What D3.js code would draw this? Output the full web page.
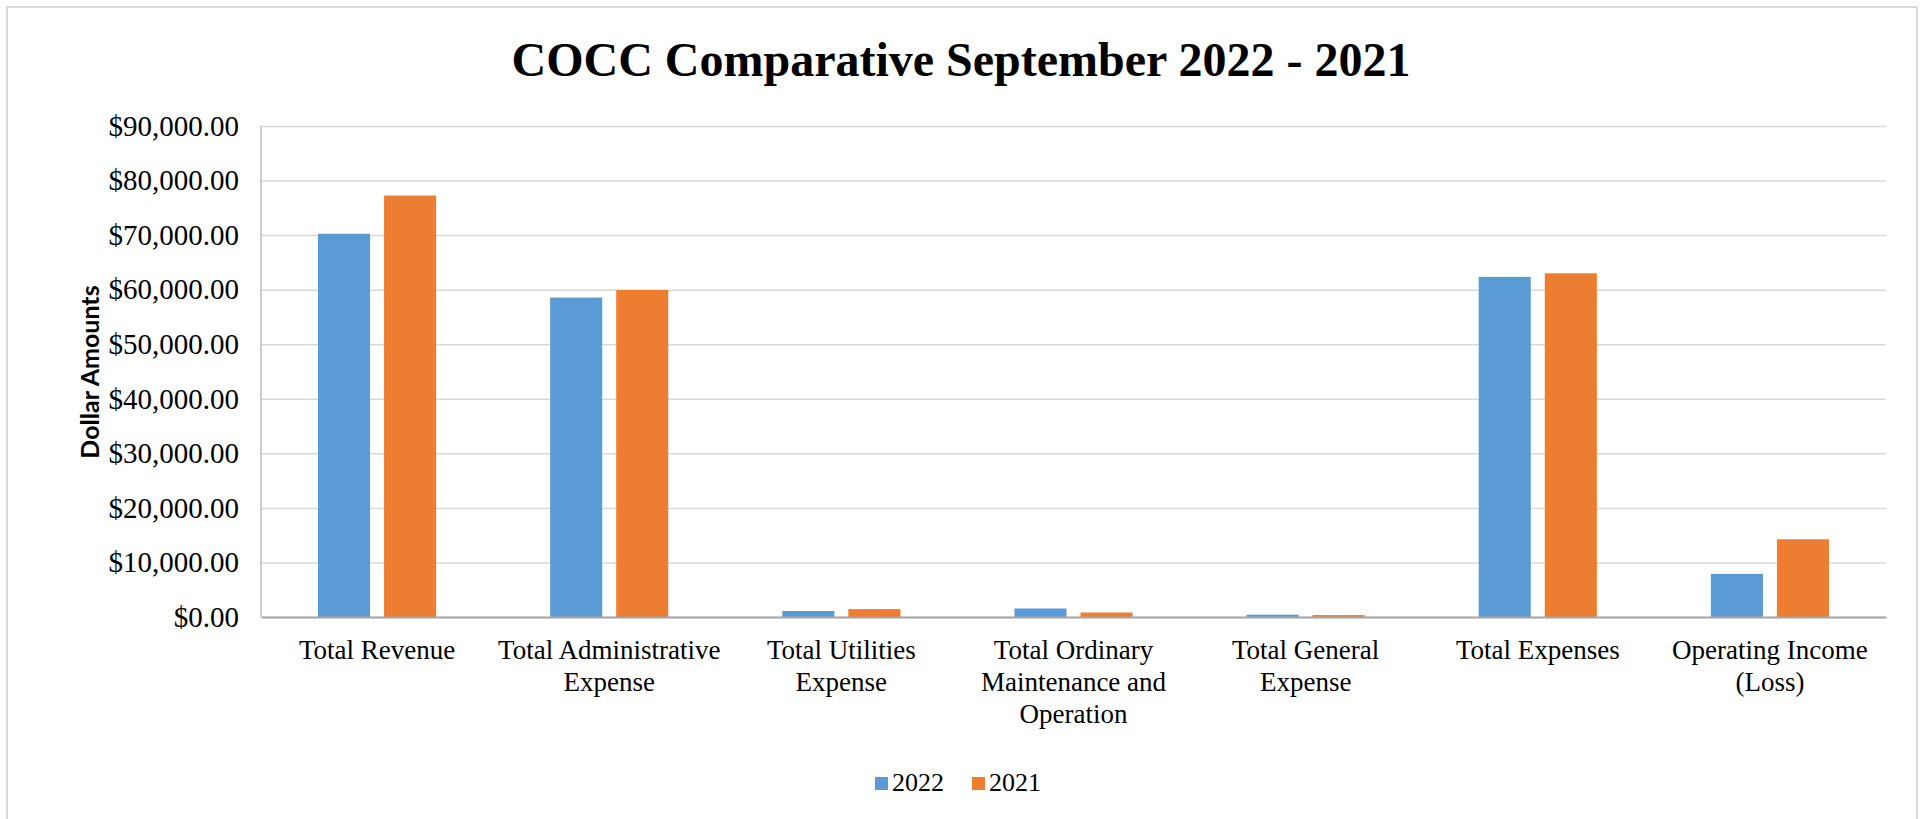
<!DOCTYPE html>
<html>
<head>
<meta charset="utf-8">
<script src="https://cdn.jsdelivr.net/npm/d3@7"></script>
<style>
  body { margin: 0; background: #fff; }
  .tick text { font-family: "Liberation Serif", "Times New Roman", serif; fill: #000; }
  .y-axis .tick text { font-size: 29px; }
  .x-axis .tick text { font-size: 27px; }
</style>
</head>
<body>
<script>
let categories = [
  "Total Revenue",
  "Total Administrative Expense",
  "Total Utilities Expense",
  "Total Ordinary Maintenance and Operation",
  "Total General Expense",
  "Total Expenses",
  "Operating Income (Loss)"
];
let series = ["2022", "2021"];
let values2022 = [70250, 58550, 1100, 1550, 420, 62350, 7900];
let values2021 = [77250, 59950, 1450, 820, 350, 63000, 14250];
let yTicks = [0, 10000, 20000, 30000, 40000, 50000, 60000, 70000, 80000, 90000];
let colors = ["#5B9BD5", "#ED7D31"];

let W = 1923, H = 819;
let margin = { top: 126, right: 37, bottom: 202, left: 261 },
  width = W - margin.left - margin.right,
  height = H - margin.top - margin.bottom;

let rows = categories.map((c, i) => ({ cat: c, vals: [values2022[i], values2021[i]] }));

let root = d3.select("body").append("svg")
  .attr("width", W)
  .attr("height", H);

// outer chart frame
root.append("rect")
  .attr("x", 7).attr("y", 7)
  .attr("width", 1910).attr("height", 830)
  .attr("fill", "#fff")
  .attr("stroke", "#d9d9d9")
  .attr("stroke-width", 2);

root.append("text")
  .attr("x", 961)
  .attr("y", 76)
  .attr("text-anchor", "middle")
  .attr("font-family", "Liberation Serif, Times New Roman, serif")
  .attr("font-weight", "bold")
  .attr("font-size", 48)
  .text("COCC Comparative September 2022 - 2021");

let svg = root.append("g")
  .attr("transform", "translate(" + margin.left + "," + margin.top + ")");

let y = d3.scaleLinear().domain([0, 90000]).range([height, 0]);

let x0 = d3.scaleBand().domain(categories).range([0, width]).padding(0);
let x1 = d3.scaleBand().domain(series)
  .range([57, x0.bandwidth() - 57])
  .paddingInner(0.212);

// gridlines + y labels
svg.append("g")
  .attr("class", "y-axis")
  .call(d3.axisLeft(y)
    .tickValues(yTicks)
    .tickSize(-width)
    .tickPadding(22)
    .tickFormat(d => "$" + d3.format(",.2f")(d)))
  .call(g => g.select(".domain").remove())
  .call(g => g.selectAll(".tick line")
    .attr("stroke", "#d9d9d9")
    .attr("stroke-width", 1.5));

svg.append("text")
  .attr("transform", "translate(" + (89 - margin.left) + "," + (372 - margin.top) + ") rotate(-90)")
  .attr("text-anchor", "middle")
  .attr("dominant-baseline", "central")
  .attr("font-family", "Lato, Carlito, sans-serif")
  .attr("font-weight", "bold")
  .attr("font-size", 25)
  .text("Dollar Amounts");

// bars
let groups = svg.selectAll(".grp")
  .data(rows)
  .enter().append("g")
  .attr("class", "grp")
  .attr("transform", d => "translate(" + x0(d.cat) + ",0)");

groups.selectAll("rect")
  .data(d => d.vals.map((v, i) => ({ s: series[i], v: v, i: i })))
  .enter().append("rect")
  .attr("x", d => x1(d.s))
  .attr("width", x1.bandwidth())
  .attr("y", d => y(d.v))
  .attr("height", d => height - y(d.v))
  .attr("fill", d => colors[d.i]);

// axis lines
svg.append("line")
  .attr("x1", 0).attr("x2", 0)
  .attr("y1", 0).attr("y2", height)
  .attr("stroke", "#bfbfbf").attr("stroke-width", 1.5);

let xAxis = svg.append("g")
  .attr("class", "x-axis")
  .attr("transform", "translate(0," + height + ")")
  .call(d3.axisBottom(x0).tickSize(0).tickPadding(0));
xAxis.select(".domain").attr("stroke", "#a6a6a6").attr("stroke-width", 2);

// wrap category names into lines
xAxis.selectAll(".tick text").each(function (d) {
  let t = d3.select(this);
  let words = d.split(" "), lines = [], line = [];
  t.text(null);
  let probe = t.append("tspan");
  words.forEach(w => {
    line.push(w);
    probe.text(line.join(" "));
    if (probe.node().getComputedTextLength() > 228 && line.length > 1) {
      line.pop();
      lines.push(line.join(" "));
      line = [w];
    }
  });
  lines.push(line.join(" "));
  probe.remove();
  t.attr("y", 0).attr("dy", null);
  lines.forEach((l, i) => {
    t.append("tspan")
      .attr("x", 0)
      .attr("y", 42 + i * 32)
      .text(l);
  });
});

// legend
let legend = root.append("g").attr("transform", "translate(875,777)");
series.forEach((s, i) => {
  let item = legend.append("g").attr("transform", "translate(" + (i * 97) + ",0)");
  item.append("rect")
    .attr("width", 13).attr("height", 13)
    .attr("fill", colors[i]);
  item.append("text")
    .attr("x", 17).attr("y", 14)
    .attr("font-family", "Liberation Serif, Times New Roman, serif")
    .attr("font-size", 26)
    .text(s);
});
</script>
</body>
</html>
